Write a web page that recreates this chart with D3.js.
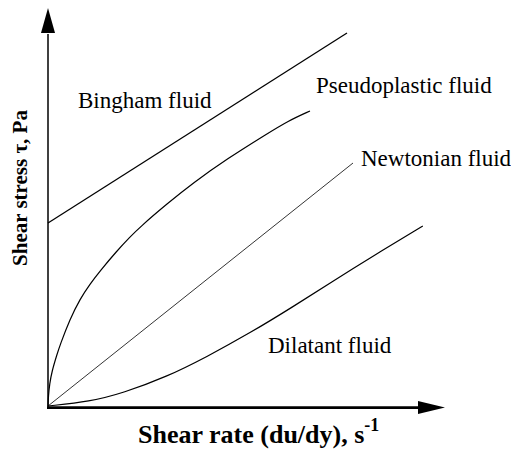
<!DOCTYPE html>
<head>
    <meta charset="utf-8">
    <script src="https://d3js.org/d3.v7.min.js"></script>
    <style>
        body {
            margin: 0;
            background-color: #fff;
        }

        .curve {
            fill: none;
            stroke: #000;
        }

        .axis-line {
            stroke: #000;
        }

        .curve-label {
            font-family: "Liberation Serif", "Times New Roman", serif;
            font-size: 23px;
            fill: #000;
        }

        .axis-title {
            font-family: "Liberation Serif", "Times New Roman", serif;
            font-weight: bold;
            fill: #000;
        }
    </style>
</head>

<body>
    <script>
        var width = 511,
            height = 452;

        // values, in arbitrary units (0..100 on both axes)
        var bingham = [[0, 45.75], [74.75, 93.25]];
        var pseudoplastic = [[0, 0], [0.1, 2.5], [0.4, 5.5], [1, 8.75], [2.2, 12.75], [3, 15.25], [5.5, 21.75],
            [8, 26.75], [10.5, 30.5], [13, 33.75], [17.2, 38.75], [20.5, 42.25], [23, 44.75],
            [29.7, 50.5], [36.25, 55.75], [44.7, 61.75], [54.7, 68], [60, 71.25], [65.5, 73.75]];
        var newtonian = [[0, 0], [76.25, 60.75]];
        var dilatant = [[0, 0], [10.5, 1.1], [18.75, 3.25], [29.7, 7.3], [39.7, 12.3], [50.5, 18.25],
            [61.25, 24.8], [71.25, 31.25], [81.25, 37.5], [93.7, 45]];

        var fluidNames = ["Bingham fluid", "Pseudoplastic fluid", "Newtonian fluid", "Dilatant fluid"];
        var xTitle = "Shear rate (du/dy), s";
        var xTitleSup = "-1";
        var yTitle = "Shear stress \u03c4, Pa";

        var x = d3.scaleLinear().domain([0, 100]).range([48, 448]);
        var y = d3.scaleLinear().domain([0, 100]).range([406, 6]);

        var svg = d3.select("body").append("svg")
            .attr("width", width)
            .attr("height", height);

        var line = d3.line()
            .x(function(d) { return x(d[0]); })
            .y(function(d) { return y(d[1]); })
            .curve(d3.curveBasis);

        var series = [
            { data: bingham, w: 1.3 },
            { data: pseudoplastic, w: 1.2 },
            { data: newtonian, w: 0.8 },
            { data: dilatant, w: 1.2 }
        ];

        svg.selectAll(".curve")
            .data(series)
            .enter().append("path")
            .attr("class", "curve")
            .attr("stroke-width", function(d) { return d.w; })
            .attr("d", function(d) { return line(d.data); });

        // axes with arrow heads
        svg.append("line")
            .attr("class", "axis-line")
            .attr("x1", x(0)).attr("y1", y(0) + 1)
            .attr("x2", x(0)).attr("y2", y(93))
            .attr("stroke-width", 1.5);

        svg.append("polygon")
            .attr("points", [[x(0) - 7, y(93.25)], [x(0), y(99.5)], [x(0) + 7, y(93.25)]].join(" "));

        svg.append("line")
            .attr("class", "axis-line")
            .attr("x1", x(-0.25)).attr("y1", y(-0.4))
            .attr("x2", x(93)).attr("y2", y(-0.4))
            .attr("stroke-width", 2.6);

        svg.append("polygon")
            .attr("points", [[x(92.5), y(-0.4) - 6.5], [x(99.25), y(-0.4)], [x(92.5), y(-0.4) + 6.5]].join(" "));

        // curve labels
        var labelPos = [[78, 108], [316, 93], [361, 166], [268, 353]];

        svg.selectAll(".curve-label")
            .data(fluidNames)
            .enter().append("text")
            .attr("class", "curve-label")
            .attr("x", function(d, i) { return labelPos[i][0]; })
            .attr("y", function(d, i) { return labelPos[i][1]; })
            .text(function(d) { return d; });

        var xt = svg.append("text")
            .attr("class", "axis-title")
            .attr("x", 138)
            .attr("y", 443)
            .style("font-size", "26px")
            .text(xTitle);

        xt.append("tspan")
            .attr("dy", -12)
            .style("font-size", "18px")
            .text(xTitleSup);

        svg.append("text")
            .attr("class", "axis-title")
            .attr("transform", "translate(27,188) rotate(-90)")
            .attr("text-anchor", "middle")
            .style("font-size", "21px")
            .text(yTitle);
    </script>
</body>
